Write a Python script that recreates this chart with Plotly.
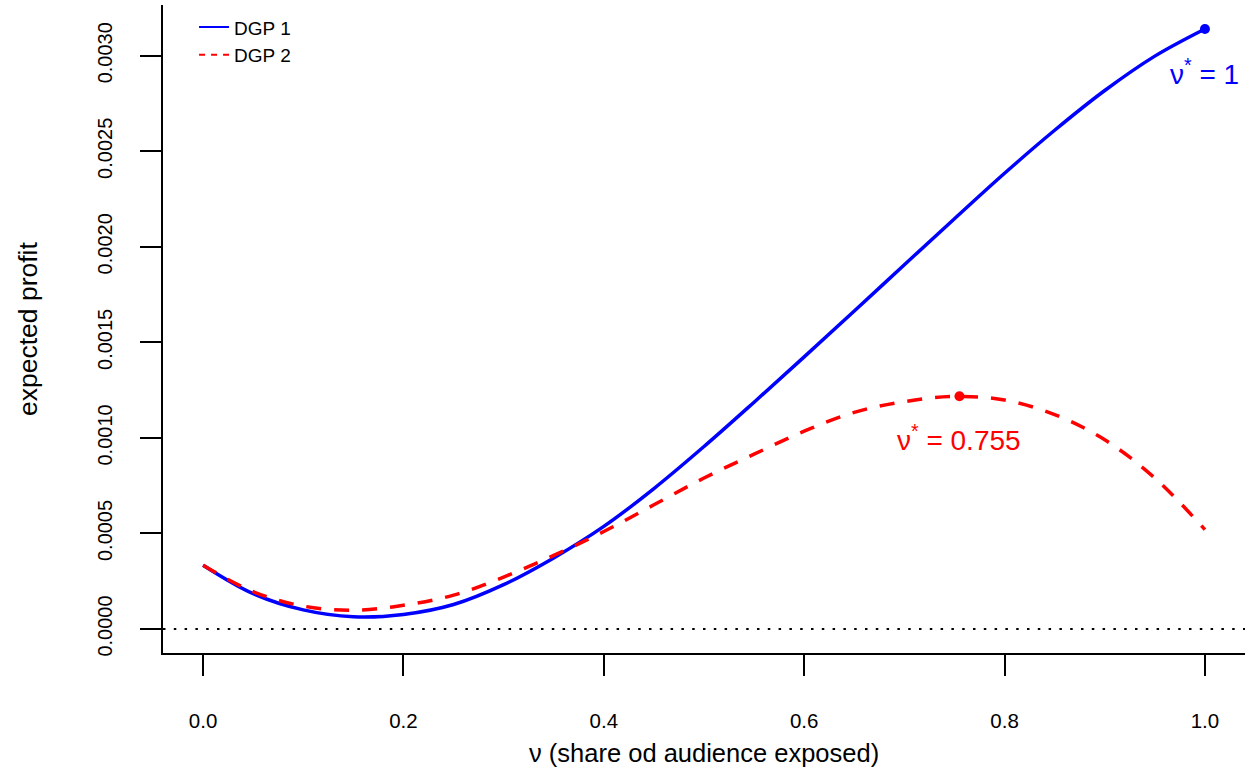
import plotly.graph_objects as go

# ---------------- data ----------------
nu_grid = [0.00, 0.05, 0.10, 0.15, 0.20, 0.25, 0.30, 0.35, 0.40, 0.45, 0.50,
           0.55, 0.60, 0.65, 0.70, 0.75, 0.80, 0.85, 0.90, 0.95, 1.00]
profit_dgp1 = [0.000334, 0.000185, 0.000100, 0.000064, 0.000076, 0.000128,
               0.000232, 0.000372, 0.000537, 0.000735, 0.000955, 0.001187,
               0.001424, 0.001664, 0.001906, 0.002147, 0.002385, 0.002610,
               0.002818, 0.002998, 0.003140]
profit_dgp2 = [0.000334, 0.000195, 0.000120, 0.0000985, 0.000124, 0.000177,
               0.000272, 0.000385, 0.000510, 0.000650, 0.000790, 0.000915,
               0.001035, 0.001134, 0.001190, 0.001217, 0.001198, 0.001122,
               0.000990, 0.000790, 0.000520]
nu_star_dgp1, profit_star_dgp1 = 1.0, 0.003140
nu_star_dgp2, profit_star_dgp2 = 0.755, 0.001218
series_names = ["DGP 1", "DGP 2"]
x_ticks = [0.0, 0.2, 0.4, 0.6, 0.8, 1.0]
x_ticklabels = ["0.0", "0.2", "0.4", "0.6", "0.8", "1.0"]
y_ticks = [0.0, 0.0005, 0.0010, 0.0015, 0.0020, 0.0025, 0.0030]
y_ticklabels = ["0.0000", "0.0005", "0.0010", "0.0015", "0.0020", "0.0025", "0.0030"]
x_title = "ν (share od audience exposed)"
y_title = "expected profit"

BLUE = "#0000FF"
RED = "#FF0000"
FONT = "Liberation Sans, Arial, Helvetica, sans-serif"

fig = go.Figure()

# curves
fig.add_trace(go.Scatter(x=nu_grid, y=profit_dgp1, mode="lines",
                         line=dict(color=BLUE, width=3.5, shape="spline", smoothing=1.0),
                         showlegend=False, hoverinfo="skip"))
fig.add_trace(go.Scatter(x=nu_grid, y=profit_dgp2, mode="lines",
                         line=dict(color=RED, width=3.5, dash="15px,13px", shape="spline", smoothing=1.0),
                         showlegend=False, hoverinfo="skip"))
# optimum points
fig.add_trace(go.Scatter(x=[nu_star_dgp1], y=[profit_star_dgp1], mode="markers",
                         marker=dict(color=BLUE, size=10), showlegend=False, hoverinfo="skip"))
fig.add_trace(go.Scatter(x=[nu_star_dgp2], y=[profit_star_dgp2], mode="markers",
                         marker=dict(color=RED, size=10), showlegend=False, hoverinfo="skip"))
# legend entries (thin lines as in the reference legend)
fig.add_trace(go.Scatter(x=[None], y=[None], mode="lines", name=series_names[0],
                         line=dict(color=BLUE, width=2)))
fig.add_trace(go.Scatter(x=[None], y=[None], mode="lines", name=series_names[1],
                         line=dict(color=RED, width=2, dash="6px,6px")))

# zero reference line
fig.add_shape(type="line", xref="paper", x0=0, x1=1, yref="y", y0=0, y1=0,
              line=dict(color="black", width=1.8, dash="2.5px,8.3px"), layer="below")

# annotations for optima
fig.add_annotation(x=nu_star_dgp1, y=profit_star_dgp1, xref="x", yref="y",
                   text="ν<sup>*</sup> = %g" % nu_star_dgp1, showarrow=False,
                   font=dict(family=FONT, size=28, color=BLUE),
                   xanchor="center", yanchor="middle", yshift=-43)
fig.add_annotation(x=nu_star_dgp2, y=profit_star_dgp2, xref="x", yref="y",
                   text="ν<sup>*</sup> = %g" % nu_star_dgp2, showarrow=False,
                   font=dict(family=FONT, size=28, color=RED),
                   xanchor="center", yanchor="middle", yshift=-42)

# axis titles
fig.add_annotation(x=0.5, y=0, xref="paper", yref="paper", text=x_title, showarrow=False,
                   font=dict(family=FONT, size=25.5, color="black"),
                   xanchor="center", yanchor="middle", yshift=-100)
fig.add_annotation(x=0, y=0.5, xref="paper", yref="paper", text=y_title, showarrow=False,
                   textangle=-90, font=dict(family=FONT, size=26.5, color="black"),
                   xanchor="center", yanchor="middle", xshift=-135)

ymax = max(profit_dgp1)
pad = 0.04

fig.update_layout(
    width=1250, height=774,
    margin=dict(l=163, r=5, t=5, b=121, autoexpand=False),
    paper_bgcolor="white", plot_bgcolor="white",
    font=dict(family=FONT, color="black", size=20),
    xaxis=dict(range=[0 - pad, 1 + pad], showgrid=False, zeroline=False, automargin=False,
               showline=True, linecolor="black", linewidth=2,
               ticks="outside", ticklen=21, tickwidth=1.5, tickcolor="black",
               tickvals=x_ticks, ticktext=x_ticklabels,
               tickfont=dict(family=FONT, size=20.5, color="black"),
               ticklabelstandoff=27),
    yaxis=dict(range=[0 - pad * ymax, ymax + pad * ymax], showgrid=False, zeroline=False,
               automargin=False,
               showline=True, linecolor="black", linewidth=2,
               ticks="outside", ticklen=21, tickwidth=1.5, tickcolor="black",
               tickvals=y_ticks, ticktext=y_ticklabels, tickangle=-90,
               tickfont=dict(family=FONT, size=20, color="black"),
               ticklabelstandoff=20),
    legend=dict(x=0.0287, y=0.995, xanchor="left", yanchor="top",
                bgcolor="rgba(0,0,0,0)", borderwidth=0,
                font=dict(family=FONT, size=19, color="black"),
                tracegroupgap=0, itemwidth=30),
)

fig.write_html("out.html", config={"displayModeBar": False},
               post_script="document.body.style.margin='0px';")
